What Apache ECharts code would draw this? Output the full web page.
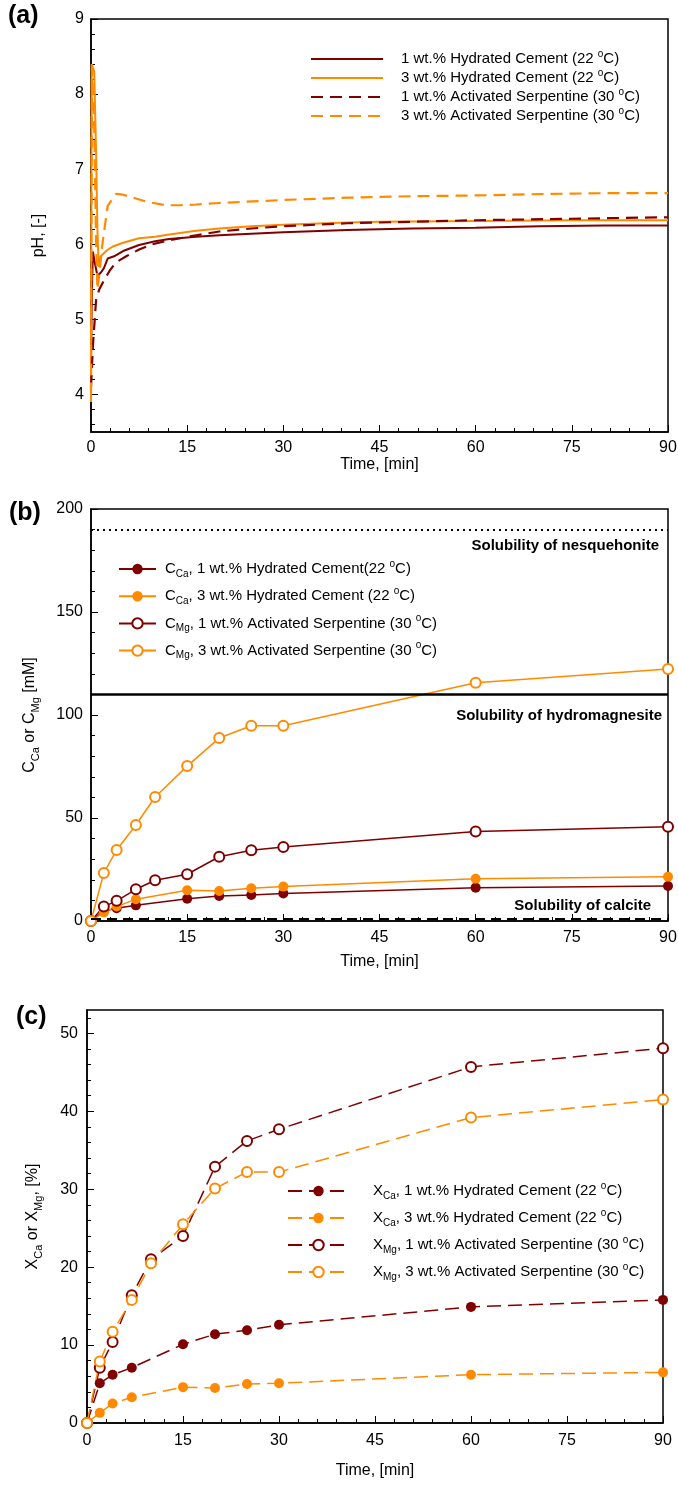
<!DOCTYPE html>
<html>
<head>
<meta charset="utf-8">
<script src="https://cdn.jsdelivr.net/npm/echarts@6/dist/echarts.min.js"></script>
<style>html,body{margin:0;padding:0;background:#fff;}#c{width:678px;height:1488px;}</style>
</head>
<body>
<div id="c"></div>
<script>
// ---------- Panel (a): pH vs time ----------
const tA_HC1 = [0, 0.15, 0.3, 0.6, 1.0, 1.5, 2.0, 2.6, 3.6, 5, 7.5, 10, 12.2, 16.4, 20, 25, 30, 40, 50, 60, 70, 80, 90];
const pH_HC1 = [4.5, 5.4, 5.9, 5.75, 5.58, 5.62, 5.68, 5.81, 5.84, 5.91, 5.99, 6.04, 6.07, 6.10, 6.12, 6.14, 6.16, 6.19, 6.21, 6.22, 6.24, 6.25, 6.25];
const tA_HC3 = [0, 0.1, 0.5, 0.8, 1.0, 1.2, 1.5, 2.5, 3.4, 5, 7.5, 10, 12.2, 16.4, 20, 25, 30, 40, 45, 60, 75, 90];
const pH_HC3 = [3.9, 8.4, 8.3, 7.2, 6.2, 5.7, 5.84, 5.92, 5.97, 6.02, 6.08, 6.10, 6.13, 6.18, 6.21, 6.24, 6.26, 6.29, 6.30, 6.31, 6.32, 6.32];
const tA_AS1 = [0, 0.3, 0.8, 1.3, 2.1, 3.0, 3.9, 5.5, 7.5, 9.6, 12, 16.4, 20, 25, 30, 40, 50, 60, 75, 90];
const pH_AS1 = [4.1, 4.65, 5.27, 5.4, 5.53, 5.66, 5.76, 5.84, 5.93, 6.0, 6.05, 6.12, 6.17, 6.21, 6.24, 6.28, 6.30, 6.32, 6.34, 6.36];
const tA_AS3 = [0, 0.15, 0.5, 0.8, 1.0, 1.3, 1.8, 2.6, 3.9, 5, 7, 9, 11.7, 14, 16.4, 20, 30, 40, 50, 60, 71, 80, 90];
const pH_AS3 = [4.0, 8.35, 7.6, 6.0, 5.4, 5.6, 6.02, 6.51, 6.67, 6.66, 6.61, 6.56, 6.52, 6.52, 6.53, 6.55, 6.59, 6.62, 6.64, 6.65, 6.67, 6.68, 6.68];

// ---------- Panel (b): concentrations ----------
const tCa = [0, 2, 4, 7, 15, 20, 25, 30, 60, 90];
const tMg = [0, 2, 4, 7, 10, 15, 20, 25, 30, 60, 90];
const cCa1 = [0, 4.8, 6.2, 7.6, 10.8, 12.1, 12.6, 13.4, 16.2, 17.0];
const cCa3 = [0, 4.2, 7.0, 10.6, 14.9, 14.6, 15.9, 16.7, 20.5, 21.5];
const cMg1 = [0, 7.0, 9.8, 15.4, 19.8, 22.7, 31.2, 34.3, 35.9, 43.4, 45.8];
const cMg3 = [0, 23.3, 34.5, 46.6, 60.2, 75.2, 88.8, 94.8, 94.8, 115.7, 122.3];
const solubilityValues = [190, 110, 1];
const solubilityNames = ['Solubility of nesquehonite', 'Solubility of hydromagnesite', 'Solubility of calcite'];

// ---------- Panel (c): conversions ----------
const xCa1 = [0, 5.1, 6.2, 7.1, 10.1, 11.4, 11.9, 12.6, 14.9, 15.8];
const xCa3 = [0, 1.3, 2.5, 3.3, 4.6, 4.5, 5.0, 5.1, 6.2, 6.5];
const xMg1 = [0, 7.1, 10.4, 16.4, 21.0, 24.0, 32.9, 36.2, 37.7, 45.7, 48.1];
const xMg3 = [0, 7.9, 11.7, 15.8, 20.5, 25.5, 30.1, 32.2, 32.2, 39.2, 41.5];

// ---------- Tick labels ----------
const xTicks = [0, 15, 30, 45, 60, 75, 90];
const yTicksA = [4, 5, 6, 7, 8, 9];
const yTicksB = [0, 50, 100, 150, 200];
const yTicksC = [0, 10, 20, 30, 40, 50];

const DARK = '#800000';
const ORANGE = '#ff8a00';
const FONT = "'Liberation Sans', Arial, sans-serif";

const zip = (t, v) => t.map((x, i) => [x, v[i]]);
function minorList(min, max, step, majors) {
  const out = [];
  for (let v = min; v <= max + 1e-9; v += step) {
    const r = Math.round(v * 100) / 100;
    if (!majors.some(m => Math.abs(m - r) < 1e-6)) out.push(r);
  }
  return out;
}

const rich = {
  n: { fontSize: 15, fontFamily: FONT, color: '#000', lineHeight: 20 },
  sup: { fontSize: 10, fontFamily: FONT, color: '#000', lineHeight: 12, verticalAlign: 'top' },
  sub: { fontSize: 10, fontFamily: FONT, color: '#000', lineHeight: 12, verticalAlign: 'bottom' }
};
const richName = {
  n: { fontSize: 16, fontFamily: FONT, color: '#000', lineHeight: 22 },
  sub: { fontSize: 11, fontFamily: FONT, color: '#000', lineHeight: 12, verticalAlign: 'bottom' }
};

const legendTextA = {
  'a1': '{n|1 wt.% Hydrated Cement (22 }{sup|o}{n|C)}',
  'a2': '{n|3 wt.% Hydrated Cement (22 }{sup|o}{n|C)}',
  'a3': '{n|1 wt.% Activated Serpentine (30 }{sup|o}{n|C)}',
  'a4': '{n|3 wt.% Activated Serpentine (30 }{sup|o}{n|C)}'
};
const legendTextB = {
  'b1': '{n|C}{sub|Ca}{n|, 1 wt.% Hydrated Cement(22 }{sup|o}{n|C)}',
  'b2': '{n|C}{sub|Ca}{n|, 3 wt.% Hydrated Cement (22 }{sup|o}{n|C)}',
  'b3': '{n|C}{sub|Mg}{n|, 1 wt.% Activated Serpentine (30 }{sup|o}{n|C)}',
  'b4': '{n|C}{sub|Mg}{n|, 3 wt.% Activated Serpentine (30 }{sup|o}{n|C)}'
};
const legendTextC = {
  'c1': '{n|X}{sub|Ca}{n|, 1 wt.% Hydrated Cement (22 }{sup|o}{n|C)}',
  'c2': '{n|X}{sub|Ca}{n|, 3 wt.% Hydrated Cement (22 }{sup|o}{n|C)}',
  'c3': '{n|X}{sub|Mg}{n|, 1 wt.% Activated Serpentine (30 }{sup|o}{n|C)}',
  'c4': '{n|X}{sub|Mg}{n|, 3 wt.% Activated Serpentine (30 }{sup|o}{n|C)}'
};

function xAxis(grid, margin, gap) {
  return {
    type: 'value', gridIndex: grid, min: 0, max: 90, interval: 15,
    name: 'Time, [min]', nameLocation: 'middle', nameGap: gap,
    nameTextStyle: { fontSize: 16, color: '#000', fontFamily: FONT },
    axisLine: { onZero: false, lineStyle: { color: '#000', width: 1.5 } },
    axisTick: { inside: true, length: 7, lineStyle: { color: '#000', width: 1 } },
    minorTick: { show: true, splitNumber: 5, length: 4, lineStyle: { color: '#000', width: 1 } },
    axisLabel: { fontSize: 16, color: '#000', margin: margin, fontFamily: FONT, customValues: xTicks },
    splitLine: { show: false }, minorSplitLine: { show: false }
  };
}
function yMajor(grid, min, max, ticks, name, gap, margin) {
  return {
    type: 'value', gridIndex: grid, min: min, max: max,
    name: name, nameLocation: 'middle', nameGap: gap, nameRotate: 90,
    nameTextStyle: { fontSize: 16, color: '#000', fontFamily: FONT, rich: richName },
    axisLine: { onZero: false, lineStyle: { color: '#000', width: 1.5 } },
    axisTick: { inside: true, length: 7, customValues: ticks, lineStyle: { color: '#000', width: 1 } },
    axisLabel: { fontSize: 16, color: '#000', margin: margin, fontFamily: FONT, customValues: ticks },
    splitLine: { show: false }
  };
}
function yMinor(grid, min, max, vals) {
  return {
    type: 'value', gridIndex: grid, min: min, max: max, position: 'left',
    axisLine: { show: false },
    axisTick: { inside: true, length: 4, customValues: vals, lineStyle: { color: '#000', width: 1 } },
    axisLabel: { show: false }, splitLine: { show: false }
  };
}

const gridBase = { show: true, borderColor: '#000', borderWidth: 1.5, backgroundColor: 'transparent', containLabel: false, outerBoundsMode: 'none' };

const option = {
  animation: false,
  backgroundColor: '#fff',
  textStyle: { fontFamily: FONT },
  grid: [
    Object.assign({ left: 91, top: 19, width: 577, height: 413 }, gridBase),
    Object.assign({ left: 91, top: 509, width: 577, height: 412 }, gridBase),
    Object.assign({ left: 87, top: 1010, width: 576, height: 413 }, gridBase)
  ],
  xAxis: [xAxis(0, 8, 22), xAxis(1, 9, 33), xAxis(2, 10, 40)],
  yAxis: [
    Object.assign(yMajor(0, 3.5, 9, yTicksA, 'pH, [-]', 44, 7), { nameTextStyle: { fontSize: 16, color: '#000', fontFamily: FONT, padding: [0, 20, 0, 0] } }),
    yMinor(0, 3.5, 9, minorList(3.6, 8.8, 0.2, yTicksA)),
    Object.assign(yMajor(1, 0, 200, yTicksB, '{n|C}{sub|Ca}{n| or C}{sub|Mg}{n| [mM]}', 50, 8), {
      interval: 50,
      axisTick: { inside: true, length: 7, lineStyle: { color: '#000', width: 1 } },
      minorTick: { show: true, splitNumber: 5, length: 4, lineStyle: { color: '#000', width: 1 } },
      minorSplitLine: { show: false }
    }),
    yMajor(2, 0, 53, yTicksC, '{n|X}{sub|Ca}{n| or X}{sub|Mg}{n|, [%]}', 43, 9),
    yMinor(2, 0, 53, minorList(2, 52, 2, yTicksC))
  ],
  legend: [
    {
      data: ['a1', 'a2', 'a3', 'a4'], orient: 'vertical', left: 305, top: 44,
      itemWidth: 72, itemHeight: 14, itemGap: 1.5,
      itemStyle: { opacity: 0 },
      formatter: n => legendTextA[n],
      textStyle: { padding: [0, 0, 0, 13], rich: rich }
    },
    {
      data: ['b1', 'b2', 'b3', 'b4'], orient: 'vertical', left: 113, top: 554,
      itemWidth: 37, itemHeight: 13, itemGap: 7.2,
      formatter: n => legendTextB[n],
      textStyle: { padding: [0, 0, 0, 4], rich: rich }
    },
    {
      data: ['c1', 'c2', 'c3', 'c4'], orient: 'vertical', left: 282, top: 1176,
      itemWidth: 61, itemHeight: 13, itemGap: 7,
      formatter: n => legendTextC[n],
      textStyle: { padding: [0, 0, 0, 19], rich: rich }
    }
  ],
  graphic: [
    { type: 'text', left: 8, top: 4, style: { text: '(a)', font: 'bold 25px ' + FONT, fill: '#000' } },
    { type: 'text', left: 9, top: 501, style: { text: '(b)', font: 'bold 25px ' + FONT, fill: '#000' } },
    { type: 'text', left: 16, top: 1005, style: { text: '(c)', font: 'bold 25px ' + FONT, fill: '#000' } }
  ],
  series: [
    // panel a
    { name: 'a1', type: 'line', xAxisIndex: 0, yAxisIndex: 0, data: zip(tA_HC1, pH_HC1), symbol: 'none', lineStyle: { color: DARK, width: 2 }, itemStyle: { color: DARK } },
    { name: 'a2', type: 'line', xAxisIndex: 0, yAxisIndex: 0, data: zip(tA_HC3, pH_HC3), symbol: 'none', lineStyle: { color: ORANGE, width: 2 }, itemStyle: { color: ORANGE } },
    { name: 'a3', type: 'line', xAxisIndex: 0, yAxisIndex: 0, data: zip(tA_AS1, pH_AS1), symbol: 'none', lineStyle: { color: DARK, width: 2.2, type: [12, 7] }, itemStyle: { color: DARK } },
    { name: 'a4', type: 'line', xAxisIndex: 0, yAxisIndex: 0, data: zip(tA_AS3, pH_AS3), symbol: 'none', lineStyle: { color: ORANGE, width: 2.2, type: [12, 7] }, itemStyle: { color: ORANGE } },
    // panel b
    { name: 'b1', type: 'line', xAxisIndex: 1, yAxisIndex: 2, data: zip(tCa, cCa1), symbol: 'circle', symbolSize: 10, lineStyle: { color: DARK, width: 1.5 }, itemStyle: { color: DARK } ,
      markLine: {
        silent: true, symbol: 'none', animation: false,
        data: [
          { yAxis: solubilityValues[0], lineStyle: { type: [2, 4], width: 2.2, color: '#000' },
            label: { show: true, position: 'insideEndBottom', formatter: solubilityNames[0], distance: [9, 9], fontSize: 15, fontWeight: 'bold', color: '#000', fontFamily: FONT } },
          { yAxis: solubilityValues[1], lineStyle: { type: 'solid', width: 2.5, color: '#000' },
            label: { show: true, position: 'insideEndBottom', formatter: solubilityNames[1], distance: [6, 14], fontSize: 15, fontWeight: 'bold', color: '#000', fontFamily: FONT } },
          { yAxis: solubilityValues[2], lineStyle: { type: [10, 6], width: 2, color: '#000' },
            label: { show: true, position: 'insideEndTop', formatter: solubilityNames[2], distance: [17, 6], fontSize: 15, fontWeight: 'bold', color: '#000', fontFamily: FONT } }
        ]
      }
    },
    { name: 'b2', type: 'line', xAxisIndex: 1, yAxisIndex: 2, data: zip(tCa, cCa3), symbol: 'circle', symbolSize: 10, lineStyle: { color: ORANGE, width: 1.5 }, itemStyle: { color: ORANGE } },
    { name: 'b3', type: 'line', xAxisIndex: 1, yAxisIndex: 2, data: zip(tMg, cMg1), symbol: 'emptyCircle', symbolSize: 10, lineStyle: { color: DARK, width: 1.5 }, itemStyle: { color: DARK, borderWidth: 2.5 } },
    { name: 'b4', type: 'line', xAxisIndex: 1, yAxisIndex: 2, data: zip(tMg, cMg3), symbol: 'emptyCircle', symbolSize: 10, lineStyle: { color: ORANGE, width: 1.5 }, itemStyle: { color: ORANGE, borderWidth: 2.5 } },
    // panel c
    { name: 'c1', type: 'line', xAxisIndex: 2, yAxisIndex: 3, data: zip(tCa, xCa1), symbol: 'circle', symbolSize: 10, lineStyle: { color: DARK, width: 1.5, type: [14, 7] }, itemStyle: { color: DARK } },
    { name: 'c2', type: 'line', xAxisIndex: 2, yAxisIndex: 3, data: zip(tCa, xCa3), symbol: 'circle', symbolSize: 10, lineStyle: { color: ORANGE, width: 1.5, type: [14, 7] }, itemStyle: { color: ORANGE } },
    { name: 'c3', type: 'line', xAxisIndex: 2, yAxisIndex: 3, data: zip(tMg, xMg1), symbol: 'emptyCircle', symbolSize: 10, lineStyle: { color: DARK, width: 1.5, type: [14, 7] }, itemStyle: { color: DARK, borderWidth: 2.5 } },
    { name: 'c4', type: 'line', xAxisIndex: 2, yAxisIndex: 3, data: zip(tMg, xMg3), symbol: 'emptyCircle', symbolSize: 10, lineStyle: { color: ORANGE, width: 1.5, type: [14, 7] }, itemStyle: { color: ORANGE, borderWidth: 2.5 } }
  ]
};

const chart = echarts.init(document.getElementById('c'), null, { renderer: 'canvas' });
chart.setOption(option);
</script>
</body>
</html>
